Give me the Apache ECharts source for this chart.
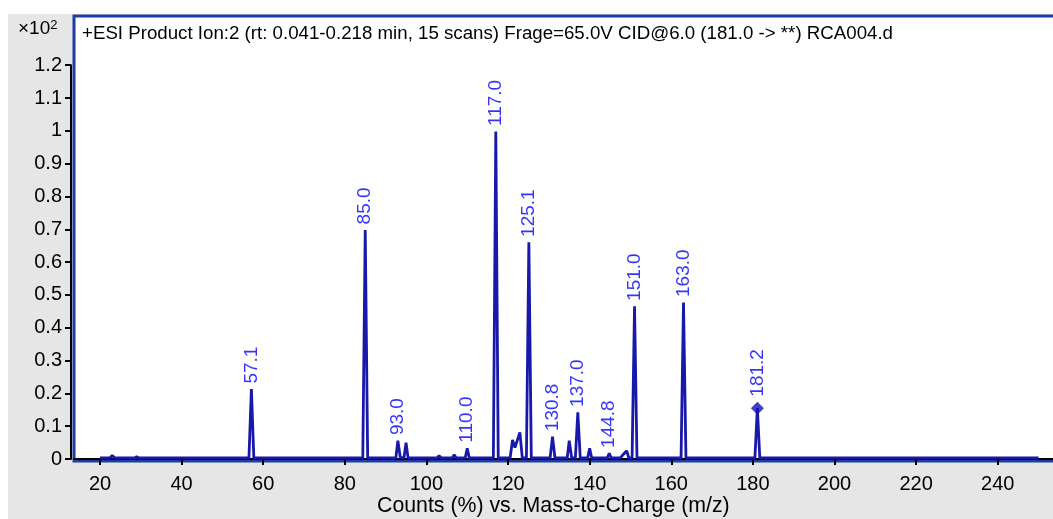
<!DOCTYPE html>
<html>
<head>
<meta charset="utf-8">
<script src="https://cdn.jsdelivr.net/npm/echarts@6/dist/echarts.min.js"></script>
<style>
html,body{margin:0;padding:0;background:#fff;width:1053px;height:519px;overflow:hidden;}
#bg{position:absolute;left:8px;top:14px;width:1045px;height:505px;background:#e6e6e6;}
#chart{position:absolute;left:0;top:0;width:1090px;height:519px;}
</style>
</head>
<body>
<div id="bg"></div>
<div id="chart"></div>
<script>
// Profile spectrum (m/z, relative counts x10^2)
const profileMz = [20, 22.4, 23, 23.6, 28.5, 29, 29.5, 56.5, 57.1, 57.7, 84.4, 85.0, 85.6,
  92.5, 93.0, 93.6, 94.0, 94.5, 95.0, 95.5, 102.6, 103.1, 103.6, 104.6, 105.0, 105.4,
  106.3, 106.8, 107.3, 109.5, 110.0, 110.5, 116.4, 117.0, 117.6, 120.5, 121.1, 121.7,
  122.9, 123.5, 124.5, 125.1, 125.7, 130.3, 130.9, 131.5, 134.5, 135.0, 135.6, 136.5,
  137.1, 137.7, 139.5, 140.0, 140.5, 144.3, 144.8, 145.3, 147.5, 148.1, 148.5, 149.1,
  149.6, 150.4, 151.0, 151.6, 162.4, 163.0, 163.6, 180.5, 181.1, 181.7, 250];
const profileCounts = [0.003, 0.003, 0.011, 0.003, 0.003, 0.007, 0.003, 0.003, 0.213, 0.003, 0.003, 0.698, 0.003,
  0.003, 0.056, 0.004, 0.004, 0.004, 0.05, 0.003, 0.003, 0.01, 0.003, 0.003, 0.009, 0.003,
  0.003, 0.013, 0.003, 0.003, 0.033, 0.003, 0.003, 0.998, 0.003, 0.003, 0.058, 0.035,
  0.081, 0.003, 0.003, 0.66, 0.003, 0.003, 0.068, 0.003, 0.003, 0.056, 0.003, 0.003,
  0.142, 0.003, 0.003, 0.033, 0.003, 0.003, 0.017, 0.003, 0.003, 0.012, 0.008, 0.025,
  0.003, 0.003, 0.465, 0.003, 0.003, 0.477, 0.003, 0.003, 0.155, 0.003, 0.003];
// Annotated peaks
const peakMz = [57.1, 85.0, 93.0, 110.0, 117.0, 125.1, 130.8, 137.0, 144.8, 151.0, 163.0, 181.2];
const peakPos = [57.1, 85.0, 93.0, 110.0, 117.0, 125.1, 130.9, 137.1, 144.8, 151.0, 163.0, 181.1];
const peakCounts = [0.213, 0.698, 0.056, 0.033, 0.998, 0.66, 0.068, 0.142, 0.017, 0.465, 0.477, 0.155];
const xTicks = [20, 40, 60, 80, 100, 120, 140, 160, 180, 200, 220, 240];

const FONT = '"Liberation Sans", Arial, sans-serif';
const chart = echarts.init(document.getElementById('chart'), null, {renderer: 'canvas'});

const profile = profileMz.map((m, i) => [m, profileCounts[i]]);
const labels = peakMz.map((m, i) => {
  const isPrecursor = i === peakMz.length - 1;
  return {
    value: [peakPos[i], peakCounts[i]], name: m.toFixed(1),
    symbol: isPrecursor ? 'diamond' : 'circle',
    symbolSize: isPrecursor ? 13 : 1,
    itemStyle: {color: isPrecursor ? '#1010bb' : 'rgba(0,0,0,0)'}
  };
});

chart.setOption({
  animation: false,
  backgroundColor: 'transparent',
  title: [
    {text: '+ESI Product Ion:2 (rt: 0.041-0.218 min, 15 scans) Frage=65.0V CID@6.0 (181.0 -> **) RCA004.d',
     left: 82, top: 24, padding: 0,
     textStyle: {fontFamily: FONT, fontSize: 18.7, fontWeight: 'normal', color: '#000'}},
    {text: '{a|×10}{b|2}', left: 18, top: 19, padding: 0,
     textStyle: {fontFamily: FONT, fontWeight: 'normal', color: '#000',
       rich: {a: {fontFamily: FONT, fontSize: 19, color: '#000', verticalAlign: 'bottom'},
              b: {fontFamily: FONT, fontSize: 13, color: '#000', verticalAlign: 'top', padding: [0, 0, 6, 0]}}}},
    {text: 'Counts (%) vs. Mass-to-Charge (m/z)', left: 377, top: 496, padding: 0,
     textStyle: {fontFamily: FONT, fontSize: 21.3, fontWeight: 'normal', color: '#000'}}
  ],
  grid: [
    {left: 74, top: 16, width: 1000, height: 445, show: true, backgroundColor: '#fff',
     borderColor: '#1f3d9f', borderWidth: 3, containLabel: false},
    {left: 71, top: 65.2, width: 100, height: 393.8, show: false, containLabel: false}
  ],
  xAxis: [
    {type: 'value', gridIndex: 0, min: 13.628, max: 258.70, offset: 5,
     axisLine: {show: true, lineStyle: {color: '#000', width: 2}},
     axisTick: {show: true, length: 6, lineStyle: {color: '#000', width: 2}, customValues: xTicks},
     axisLabel: {show: true, customValues: xTicks, margin: 8, color: '#000', fontFamily: FONT, fontSize: 20},
     splitLine: {show: false}},
    {type: 'value', gridIndex: 1, show: false, min: 0, max: 1}
  ],
  yAxis: [
    {type: 'value', gridIndex: 0, min: -0.0061, max: 1.3498, show: false, splitLine: {show: false}},
    {type: 'value', gridIndex: 1, min: 0, max: 1.2, interval: 0.1,
     axisLine: {show: true, lineStyle: {color: '#000', width: 2}},
     axisTick: {show: true, length: 6, lineStyle: {color: '#000', width: 2}},
     axisLabel: {show: true, margin: 9, color: '#000', fontFamily: FONT, fontSize: 20},
     splitLine: {show: false}}
  ],
  series: [
    {type: 'line', xAxisIndex: 0, yAxisIndex: 0, data: profile, showSymbol: false, symbol: 'none',
     lineStyle: {color: '#1818aa', width: 2.8}, clip: true, z: 3},
    {type: 'scatter', xAxisIndex: 0, yAxisIndex: 0, data: labels,
     itemStyle: {color: '#1010bb'}, z: 4,
     label: {show: true, position: 'top', distance: 5, rotate: 90, align: 'left', verticalAlign: 'middle',
       formatter: p => p.name, color: '#0000ff', fontFamily: FONT, fontSize: 19}}
  ]
});
</script>
</body>
</html>
